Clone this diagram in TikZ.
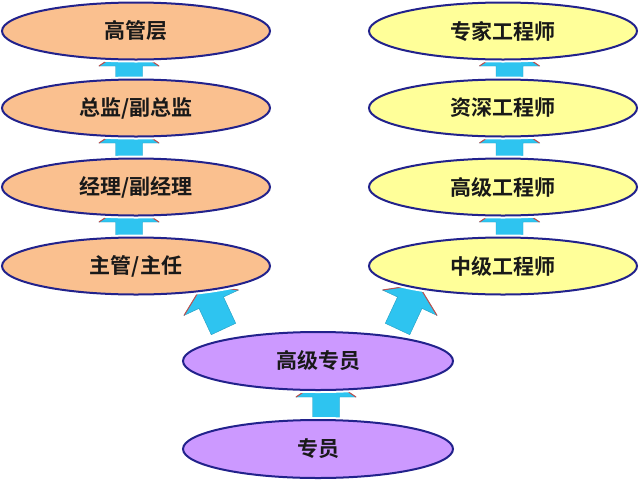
\documentclass[tikz,border=0pt]{standalone}
\usepackage{fontspec}
\newfontfamily\cjk{Noto Sans CJK SC}[BoldFont={Noto Sans CJK SC Bold}]
\usetikzlibrary{shapes.geometric}
\pgfdeclarelayer{paper}
\pgfdeclarelayer{background}
\pgfsetlayers{paper,background,main}
\definecolor{peach}{HTML}{FAC08F}
\definecolor{lemon}{HTML}{FFFF99}
\definecolor{lilac}{HTML}{CC99FF}
\definecolor{rim}{HTML}{22228C}
\definecolor{cyanfill}{HTML}{2EC4F0}
\definecolor{headedge}{HTML}{C0504D}
\tikzset{
  level/.style={ellipse, draw=rim, line width=2pt, minimum width=268pt, minimum height=57pt,
    inner sep=0pt, font=\cjk\bfseries\fontsize{21}{23}\selectfont, text=black!90,
    preaction={draw=white, line width=6pt}},
  leftbox/.style={level, fill=peach},
  rightbox/.style={level, fill=lemon},
  basebox/.style={level, fill=lilac, minimum width=270pt, minimum height=58pt},
  blockarrow/.style={fill=cyanfill, draw=cyanfill!80!black, line width=0.4pt},
  headline/.style={draw=headedge, line width=1pt}
}
\newcommand{\upblock}[4]{% x, y (tail centre), rotation, shaft length
  \begin{scope}[shift={(#1,#2)}, rotate=#3]
    \path[blockarrow] (-13.5,0) -- (-13.5,-#4) -- (-30,-#4) -- (0,-#4-20) -- (30,-#4) -- (13.5,-#4) -- (13.5,0) -- cycle;
    \draw[headline] (-30,-#4) -- (0,-#4-20) -- (30,-#4);
  \end{scope}}
\begin{document}
\begin{tikzpicture}[x=1pt, y=-1pt]
\begin{pgfonlayer}{paper}
\fill[white] (0,0) rectangle (640,480);
\end{pgfonlayer}
\useasboundingbox (0,0) rectangle (640,480);
% left column
\node[leftbox] (gg) at (136,31) {高管层};
\node[leftbox] (zj) at (136,108) {总监/副总监};
\node[leftbox] (jl) at (136,187) {经理/副经理};
\node[leftbox] (zg) at (136,266) {主管/主任};
% right column
\node[rightbox] (zjgcs) at (503,31) {专家工程师};
\node[rightbox] (zsgcs) at (503,108) {资深工程师};
\node[rightbox] (gjgcs) at (503,187) {高级工程师};
\node[rightbox] (zhgcs) at (503,266) {中级工程师};
% bottom
\node[basebox] (gjzy) at (318,361) {高级专员};
\node[basebox] (zy) at (318,449) {专员};
\begin{pgfonlayer}{background}
  \upblock{129}{96}{0}{30}
  \upblock{129}{173}{0}{30}
  \upblock{129}{252}{0}{30}
  \upblock{509.5}{96}{0}{30}
  \upblock{509.5}{173}{0}{30}
  \upblock{509.5}{252}{0}{30}
  \upblock{326}{427}{0}{30}
  \upblock{223.5}{329}{25}{29}
  \upblock{397.5}{329}{-25}{29}
\end{pgfonlayer}
\end{tikzpicture}
\end{document}
